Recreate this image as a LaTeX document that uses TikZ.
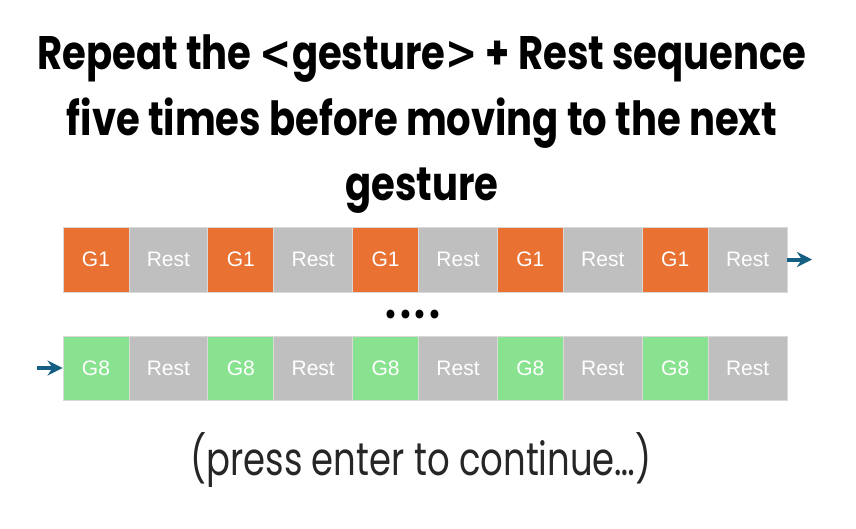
\documentclass[tikz,border=0pt]{standalone}
\usepackage{fontspec}
\setmainfont{Liberation Sans}
\newfontfamily\headfont[FakeStretch=0.82]{Poppins}
\newfontfamily\headsym[FakeStretch=0.82]{DejaVu Sans}
\newfontfamily\notefont[FakeStretch=0.77]{Poppins}
\usetikzlibrary{arrows.meta}

\definecolor{gOrange}{HTML}{E97132}
\definecolor{gGreen}{HTML}{88E290}
\definecolor{restGray}{HTML}{BFBFBF}
\definecolor{cellLine}{HTML}{D9D9D9}
\definecolor{flowBlue}{HTML}{156082}
\definecolor{noteGray}{HTML}{262626}

\begin{document}
\begin{tikzpicture}[x=1pt, y=-1pt,
    cell/.style={rectangle, draw=cellLine, line width=0.8pt, inner sep=0pt,
        text=white, font=\fontsize{21}{24}\selectfont},
    gOne/.style={cell, fill=gOrange, minimum width=66pt, minimum height=65pt},
    gEight/.style={cell, fill=gGreen, minimum width=66pt, minimum height=64pt},
    restTop/.style={cell, fill=restGray, minimum width=78.8pt, minimum height=65pt},
    restBot/.style={cell, fill=restGray, minimum width=78.8pt, minimum height=64pt},
    title/.style={anchor=base, font=\headfont\bfseries\fontsize{47}{52}\selectfont},
    flow/.style={-{Stealth[length=15pt, width=15pt]}, line width=4pt, draw=flowBlue}
]
\useasboundingbox[fill=white] (0,0) rectangle (856,528);

% Title
\node[title] (titleA) at (422,69) {Repeat the {\headsym\bfseries<}gesture{\headsym\bfseries>} + Rest sequence};
\node[title] (titleB) at (422,135) {five times before moving to the next};
\node[title] (titleC) at (422,200) {gesture};

% First gesture row
\node[gOne] (gA1) at (96,259.5) {G1};
\node[restTop] (restA1) at (168.4,259.5) {Rest};
\node[gOne] (gA2) at (240.8,259.5) {G1};
\node[restTop] (restA2) at (313.2,259.5) {Rest};
\node[gOne] (gA3) at (385.6,259.5) {G1};
\node[restTop] (restA3) at (458,259.5) {Rest};
\node[gOne] (gA4) at (530.4,259.5) {G1};
\node[restTop] (restA4) at (602.8,259.5) {Rest};
\node[gOne] (gA5) at (675.2,259.5) {G1};
\node[restTop] (restA5) at (747.6,259.5) {Rest};

% Gap
\node[title] (gapDots) at (413,318) {.\kern4pt.\kern4pt.\kern4pt.};

% Last gesture row
\node[gEight] (gB1) at (96,368) {G8};
\node[restBot] (restB1) at (168.4,368) {Rest};
\node[gEight] (gB2) at (240.8,368) {G8};
\node[restBot] (restB2) at (313.2,368) {Rest};
\node[gEight] (gB3) at (385.6,368) {G8};
\node[restBot] (restB3) at (458,368) {Rest};
\node[gEight] (gB4) at (530.4,368) {G8};
\node[restBot] (restB4) at (602.8,368) {Rest};
\node[gEight] (gB5) at (675.2,368) {G8};
\node[restBot] (restB5) at (747.6,368) {Rest};

% Flow arrows
\coordinate (outEnd) at (812,259.5);
\coordinate (inStart) at (37,368);
\draw[flow] (restA5.east) -- (outEnd);
\draw[flow] (inStart) -- (gB1.west);

% Prompt
\node[anchor=base, text=noteGray, font=\notefont\fontsize{46}{52}\selectfont] (prompt) at (421,475) {(press enter to continue…)};

\end{tikzpicture}
\end{document}
